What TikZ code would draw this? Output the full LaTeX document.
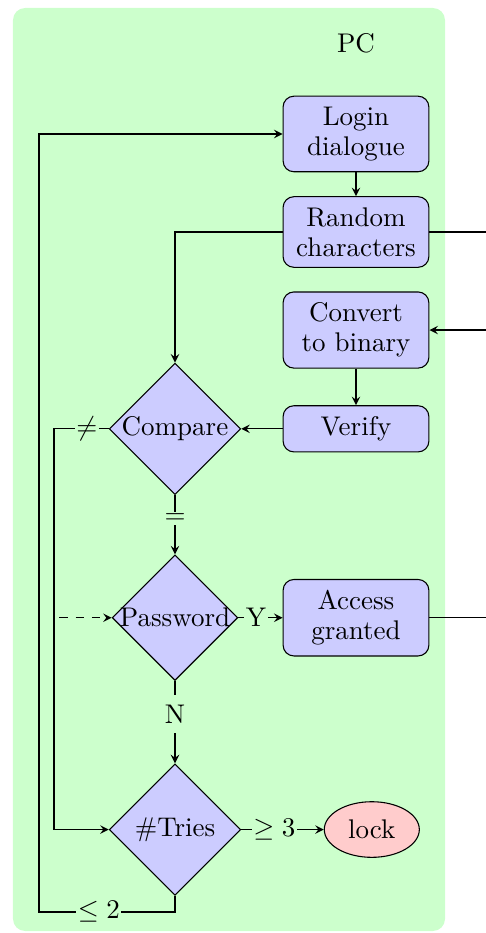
\documentclass[tikz,border=0pt]{standalone}
\usetikzlibrary{shapes.geometric}
\begin{document}
\begin{tikzpicture}[>=stealth,
  box/.style={draw, rounded corners, fill=blue!20, align=center, minimum width=54pt,
    inner xsep=4pt, inner ysep=4pt, font=\fontsize{10}{11.1}\selectfont},
  decision/.style={draw, diamond, aspect=1, fill=blue!20, inner sep=0pt, minimum size=1.711cm},
  lbl/.style={fill=green!20, inner sep=0.6pt, pos=0.4}]
\useasboundingbox (0,0) rectangle (6.326,-12.145);
\fill[green!20, rounded corners=4.5pt] (0.169,-0.104) rectangle (5.793,-12.119);
\node (pc) at (4.634,-0.560) {PC};
% right column
\node[box] (login) at (4.634,-1.744) {Login\\dialogue};
\node[box] (random) at (4.634,-3.020) {Random\\characters};
\node[box] (convert) at (4.634,-4.296) {Convert\\to binary};
\node[box] (verify) at (4.634,-5.582) {Verify};
\node[box] (access) at (4.634,-8.041) {Access\\granted};
% left column
\node[decision] (compare) at (2.278,-5.582) {Compare};
\node[decision, minimum size=0pt, inner sep=-0.35pt] (password) at (2.278,-8.041) {Password};
\node[decision] (tries) at (2.278,-10.798) {\#Tries};
\node[draw, ellipse, fill=red!20, minimum width=35.2pt, minimum height=20.6pt] (lock) at (4.840,-10.798) {lock};
% free ends
\coordinate (rndout) at (6.326,-3.020);
\coordinate (binin) at (6.326,-4.296);
\coordinate (accout) at (6.326,-8.041);
\coordinate (neq) at (0.703,-5.582);
\coordinate (retry) at (0.508,-11.871);
% connectors
\draw[->] (login) -- (random);
\draw[->] (random.west) -| (compare.north);
\draw (random.east) -- (rndout);
\draw[->] (binin) -- (convert.east);
\draw[->] (convert) -- (verify);
\draw[->] (verify) -- (compare);
\draw[->] (compare) -- node[lbl] {$=$} (password);
\draw[->] (compare.west) -- node[lbl] {$\neq$} (neq) |- (tries.west);
\draw[->, dashed] (neq) |- (password.west);
\draw[->] (password) -- node[lbl] {Y} (access);
\draw (access.east) -- (accout);
\draw[->] (password) -- node[lbl, inner ysep=3.5pt] {N} (tries);
\draw[->] (tries) -- node[lbl] {$\geq 3$} (lock);
\draw[->] (tries.south) |- node[lbl, pos=0.78] {$\leq 2$} (retry) |- (login.west);
\end{tikzpicture}
\end{document}
